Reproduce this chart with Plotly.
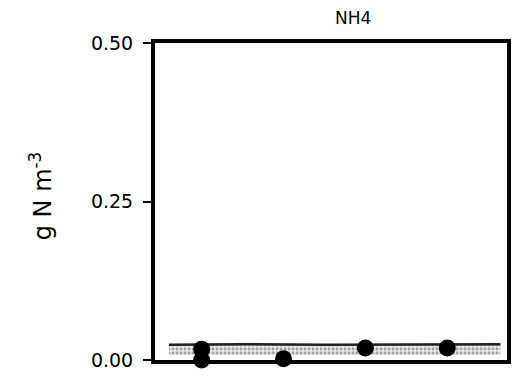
import plotly.graph_objects as go

# Data
obs_x = [1, 1, 2, 3, 4]
obs_y = [0.017, 0.0, 0.002, 0.019, 0.019]
band_x = [0.6, 1.5, 2.5, 3.5, 4.65]
band_upper = [0.024, 0.025, 0.024, 0.025, 0.025]
band_lower = [0.008, 0.008, 0.008, 0.008, 0.008]
y_ticks = [0.0, 0.25, 0.5]
y_ticklabels = ["0.00", "0.25", "0.50"]

W, H = 515, 377
ML, MR, MT, MB = 155, 4, 43, 17
PW, PH = W - ML - MR, H - MT - MB

fig = go.Figure()
fig.add_trace(go.Scatter(x=band_x, y=band_lower, mode="lines",
                         line=dict(color="rgba(0,0,0,0)", width=0),
                         showlegend=False, hoverinfo="skip"))
fig.add_trace(go.Scatter(x=band_x, y=band_upper, mode="lines",
                         line=dict(color="#222", width=2.5),
                         fill="tonexty", fillcolor="#d8d8d8",
                         fillpattern=dict(shape=".", fgcolor="#555", bgcolor="#e8e8e8", size=4, solidity=0.4),
                         showlegend=False, hoverinfo="skip"))
fig.add_trace(go.Scatter(x=obs_x, y=obs_y, mode="markers",
                         marker=dict(color="black", size=17),
                         cliponaxis=False, showlegend=False))

fig.update_layout(
    width=W, height=H,
    margin=dict(l=ML, r=MR, t=MT, b=MB),
    paper_bgcolor="white", plot_bgcolor="white",
    font=dict(family="DejaVu Sans, sans-serif", color="black"),
    showlegend=False,
    annotations=[
        dict(text="NH4", xref="paper", yref="paper",
             x=(355 - ML) / PW, y=1 + (MT - 18) / PH,
             xanchor="center", yanchor="middle", showarrow=False,
             font=dict(size=17)),
        dict(text="g N m<sup>-3</sup>", xref="paper", yref="paper",
             x=(40 - ML) / PW, y=1 - (196 - MT) / PH, textangle=-90,
             xanchor="center", yanchor="middle", showarrow=False,
             font=dict(size=24)),
    ],
)
fig.update_xaxes(range=[0.43, 4.73], showticklabels=False, ticks="",
                 showgrid=False, zeroline=False, showline=True, linecolor="black",
                 linewidth=4, mirror=True)
fig.update_yaxes(range=[0, 0.5], tickvals=y_ticks, ticktext=y_ticklabels,
                 ticks="outside", ticklen=8, tickwidth=2, tickcolor="black",
                 ticklabelstandoff=6,
                 tickfont=dict(size=19), showgrid=False, zeroline=False,
                 showline=True, linecolor="black", linewidth=4, mirror=True)

fig.write_html("out.html", config={"displayModeBar": False},
               post_script="document.body.style.margin='0';")
